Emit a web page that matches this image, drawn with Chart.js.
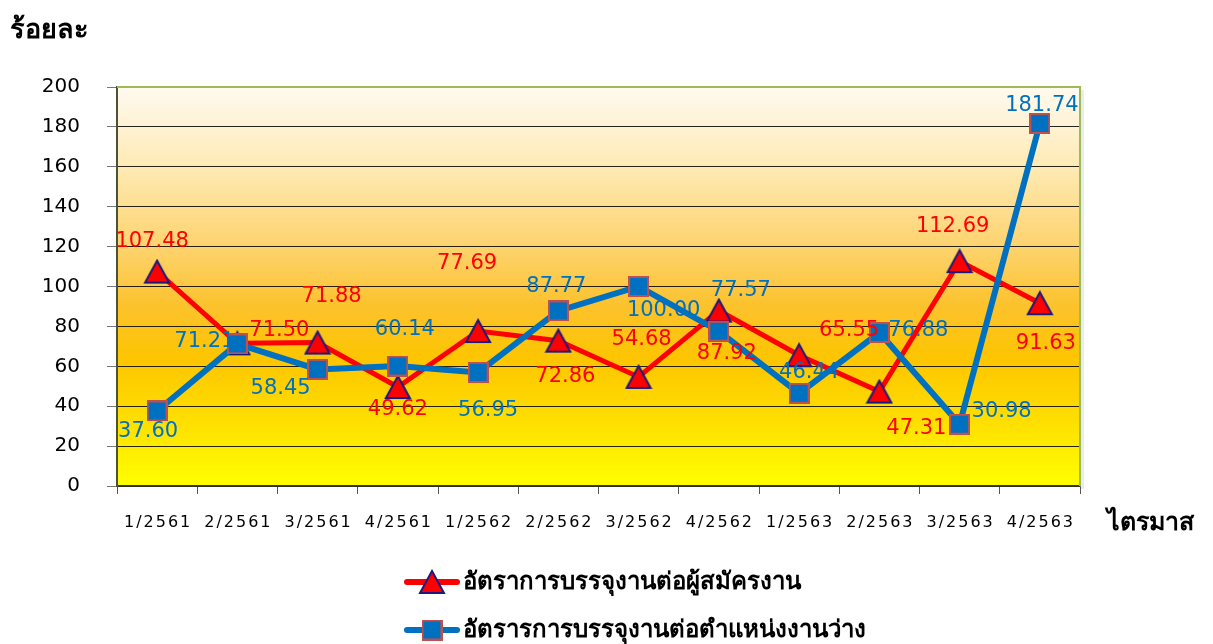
<!DOCTYPE html>
<html>
<head>
<meta charset="utf-8">
<script src="https://cdn.jsdelivr.net/npm/chart.js@4/dist/chart.umd.min.js"></script>
<style>
  html, body { margin: 0; padding: 0; background: #fff; }
  #wrap { width: 1213px; height: 644px; position: relative; }
</style>
</head>
<body>
<div id="wrap"><canvas id="myChart" width="1213" height="644"></canvas></div>
<script>
// data
var quarters = ['1/2561', '2/2561', '3/2561', '4/2561', '1/2562', '2/2562', '3/2562', '4/2562', '1/2563', '2/2563', '3/2563', '4/2563'];
var applicantRate = [107.48, 71.50, 71.88, 49.62, 77.69, 72.86, 54.68, 87.92, 65.55, 47.31, 112.69, 91.63];
var vacancyRate = [37.60, 71.21, 58.45, 60.14, 56.95, 87.77, 100.00, 77.57, 46.44, 76.88, 30.98, 181.74];
var yTicks = [0, 20, 40, 60, 80, 100, 120, 140, 160, 180, 200];
var seriesNames = ['อัตราการบรรจุงานต่อผู้สมัครงาน', 'อัตรารการบรรจุงานต่อตำแหน่งงานว่าง'];
var yTitle = 'ร้อยละ';
var xTitle = 'ไตรมาส';

// where each value label sits relative to its marker (px)
var redLabelShift = [[-5, -30], [42, -13], [14, -46], [0, 23], [-11, -67], [7, 36], [3, -37], [8, 43], [50, -25], [37, 37], [-7, -35], [6, 40]];
var blueLabelShift = [[-9, 21], [-33, -2], [-37, 19], [7, -36], [10, 38], [-2, -24], [25, 24], [22, -41], [10, -21], [39, -2], [42, -13], [2, -18]];

var thaiFont = "Tahoma, 'Noto Sans', 'DejaVu Sans', sans-serif";

// marker pictures
function makeTriangle() {
    var c = document.createElement('canvas');
    c.width = 28; c.height = 26;
    var g = c.getContext('2d');
    g.beginPath();
    g.moveTo(14, 2); g.lineTo(26, 24); g.lineTo(2, 24); g.closePath();
    g.fillStyle = '#ff0000';
    g.fill();
    g.lineWidth = 2;
    g.strokeStyle = '#1a1a80';
    g.stroke();
    return c;
}
function makeSquare() {
    var c = document.createElement('canvas');
    c.width = 21; c.height = 21;
    var g = c.getContext('2d');
    g.fillStyle = '#0070c0';
    g.fillRect(1, 1, 19, 19);
    g.lineWidth = 2;
    g.strokeStyle = '#c0504d';
    g.strokeRect(1, 1, 19, 19);
    return c;
}
var triImg = makeTriangle();
var sqImg = makeSquare();

var decor = {
    id: 'decor',
    beforeDraw: function(chart) {
        var ctx = chart.ctx, a = chart.chartArea;
        ctx.save();
        ctx.fillStyle = '#fff';
        ctx.fillRect(0, 0, chart.width, chart.height);
        // soft shadow on right of plot
        ctx.fillStyle = 'rgba(0,0,0,0.08)';
        ctx.fillRect(a.right, a.top + 3, 4, a.bottom - a.top);
        var grad = ctx.createLinearGradient(0, a.top, 0, a.bottom);
        grad.addColorStop(0, '#fffaf0');
        grad.addColorStop(0.2, '#feeab4');
        grad.addColorStop(0.4, '#fdd36e');
        grad.addColorStop(0.55, '#fcc22c');
        grad.addColorStop(0.68, '#fdc500');
        grad.addColorStop(0.85, '#fee100');
        grad.addColorStop(1, '#ffff00');
        ctx.fillStyle = grad;
        ctx.fillRect(a.left, a.top, a.right - a.left, a.bottom - a.top);
        ctx.restore();
    },
    beforeDatasetsDraw: function(chart) {
        var ctx = chart.ctx, a = chart.chartArea;
        ctx.save();
        ctx.strokeStyle = '#9bbb59';
        ctx.lineWidth = 2;
        ctx.beginPath();
        ctx.moveTo(a.left, a.top);
        ctx.lineTo(a.right, a.top);
        ctx.lineTo(a.right, a.bottom);
        ctx.stroke();
        ctx.restore();
    },
    afterDraw: function(chart) {
        var ctx = chart.ctx;
        var xs = chart.scales.x;
        ctx.save();

        // x labels with wide spacing
        ctx.font = '16px "DejaVu Sans"';
        ctx.letterSpacing = '2px';
        ctx.fillStyle = '#000';
        ctx.textAlign = 'center';
        ctx.textBaseline = 'middle';
        quarters.forEach(function(q, i) {
            ctx.fillText(q, xs.getPixelForValue(i) + 1, 523);
        });
        ctx.letterSpacing = '0px';

        // axis titles
        ctx.textAlign = 'left';
        ctx.font = 'bold 27px ' + thaiFont;
        ctx.fillText(yTitle, 10, 30);
        ctx.font = 'bold 25px ' + thaiFont;
        ctx.fillText(xTitle, 1107, 523);

        // value labels
        ctx.font = '21px "DejaVu Sans"';
        ctx.textAlign = 'center';
        var sets = [[0, applicantRate, redLabelShift, '#ff0000'], [1, vacancyRate, blueLabelShift, '#0070c0']];
        sets.forEach(function(s) {
            var meta = chart.getDatasetMeta(s[0]);
            ctx.fillStyle = s[3];
            meta.data.forEach(function(pt, i) {
                ctx.fillText(s[1][i].toFixed(2), pt.x + s[2][i][0], pt.y + s[2][i][1]);
            });
        });

        // legend, one row per series
        var rows = [[582, '#ff0000', triImg], [630, '#0070c0', sqImg]];
        rows.forEach(function(r, i) {
            ctx.strokeStyle = r[1];
            ctx.lineWidth = 6;
            ctx.lineCap = 'round';
            ctx.beginPath();
            ctx.moveTo(407, r[0]);
            ctx.lineTo(457, r[0]);
            ctx.stroke();
            ctx.drawImage(r[2], 432 - r[2].width / 2, r[0] - r[2].height / 2);
            ctx.fillStyle = '#000';
            ctx.font = 'bold 24px ' + thaiFont;
            ctx.textAlign = 'left';
            ctx.fillText(seriesNames[i], 463, r[0]);
        });
        ctx.restore();
    }
};

const ctx = document.getElementById('myChart').getContext('2d');
const myChart = new Chart(ctx, {
    type: 'line',
    data: {
        labels: quarters,
        datasets: [{
            label: seriesNames[0],
            data: applicantRate,
            borderColor: '#ff0000',
            borderWidth: 5,
            pointStyle: triImg,
            pointRadius: 12,
            order: 2,
            tension: 0
        }, {
            label: seriesNames[1],
            data: vacancyRate,
            borderColor: '#0070c0',
            borderWidth: 6,
            pointStyle: sqImg,
            pointRadius: 10,
            order: 1,
            tension: 0
        }]
    },
    options: {
        responsive: false,
        animation: false,
        layout: { padding: { top: 87, right: 133, left: 0, bottom: 0 } },
        plugins: {
            legend: { display: false },
            tooltip: { enabled: false }
        },
        scales: {
            x: {
                offset: true,
                grid: {
                    offset: true,
                    drawOnChartArea: false,
                    drawTicks: true,
                    tickLength: 8,
                    tickColor: '#555'
                },
                border: { display: true, color: '#3a3a3a', width: 1.5 },
                ticks: { display: false },
                afterFit: function(scale) { scale.height = 158; }
            },
            y: {
                min: 0,
                max: 200,
                afterBuildTicks: function(scale) {
                    scale.ticks = yTicks.map(function(v) { return { value: v }; });
                },
                grid: {
                    color: function(c) { return c.tick && c.tick.value === 200 ? 'rgba(0,0,0,0)' : 'rgba(0,0,0,0.85)'; },
                    lineWidth: 1,
                    tickLength: 10,
                    tickColor: '#777'
                },
                border: { display: true, color: '#4b5236', width: 2 },
                ticks: {
                    padding: 27,
                    color: '#000',
                    font: { family: 'DejaVu Sans', size: 20 }
                },
                afterFit: function(scale) { scale.width = 117; }
            }
        }
    },
    plugins: [decor]
});
</script>
</body>
</html>
